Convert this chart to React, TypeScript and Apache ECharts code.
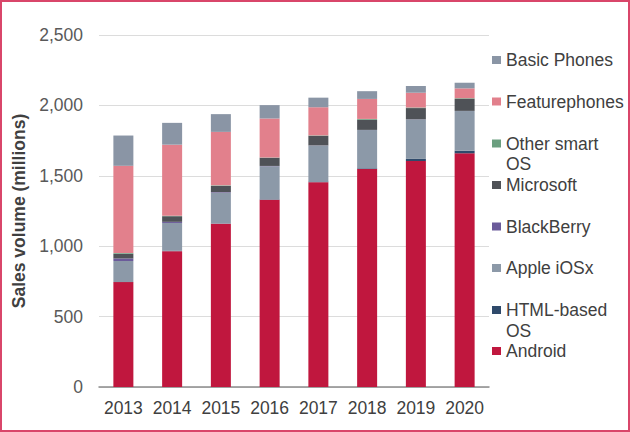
import React, { useEffect, useRef } from "react";
import * as echarts from "echarts";

const years = ["2013", "2014", "2015", "2016", "2017", "2018", "2019", "2020"];
const android = [745, 965, 1160, 1330, 1455, 1548, 1605, 1660];
const htmlOS = [0, 2, 2, 3, 5, 5, 15, 18];
const apple = [150, 198, 218, 235, 255, 272, 280, 282];
const blackberry = [18, 8, 4, 2, 1, 1, 1, 1];
const microsoft = [33, 40, 45, 58, 68, 72, 80, 85];
const otherSmart = [5, 3, 3, 2, 3, 6, 4, 5];
const featurephones = [620, 505, 380, 277, 200, 142, 105, 70];
const basicPhones = [215, 155, 126, 95, 68, 55, 48, 40];

const seriesDefs = [
  { name: "Android", data: android, color: "#c0173e" },
  { name: "HTML-based OS", data: htmlOS, color: "#2f4a6b" },
  { name: "Apple iOSx", data: apple, color: "#8c99a8" },
  { name: "BlackBerry", data: blackberry, color: "#6b5b9a" },
  { name: "Microsoft", data: microsoft, color: "#4f5257" },
  { name: "Other smart OS", data: otherSmart, color: "#6b9f7f" },
  { name: "Featurephones", data: featurephones, color: "#e2808c" },
  { name: "Basic Phones", data: basicPhones, color: "#8a95a5" },
];

// legend entries top to bottom, with label text
const legendItems = [
  { name: "Basic Phones", label: "Basic Phones", y: 60 },
  { name: "Featurephones", label: "Featurephones", y: 101.5 },
  { name: "Other smart OS", label: " \nOther smart\nOS", y: 143.5 },
  { name: "Microsoft", label: "Microsoft", y: 185 },
  { name: "BlackBerry", label: "BlackBerry", y: 226.5 },
  { name: "Apple iOSx", label: "Apple iOSx", y: 268 },
  { name: "HTML-based OS", label: " \nHTML-based\nOS", y: 310 },
  { name: "Android", label: "Android", y: 351 },
];

const FONT = "'Liberation Sans', Arial, sans-serif";
const LH = 20.5;

export default function App() {
  const ref = useRef<HTMLDivElement>(null);

  useEffect(() => {
    if (!ref.current) return;
    const chart = echarts.init(ref.current, undefined, { renderer: "svg" });

    const legends = legendItems.map((it) => {
      const multi = it.label.indexOf("\n") >= 0;
      return {
        data: [it.name],
        orient: "vertical",
        left: 492,
        top: multi ? it.y - LH * 1.5 : it.y - LH / 2,
        padding: 0,
        itemWidth: 9,
        itemHeight: 8,
        itemGap: 0,
        icon: "rect",
        selectedMode: false,
        formatter: () => it.label,
        textStyle: {
          fontFamily: FONT,
          fontSize: 17.5,
          color: "#404040",
          lineHeight: LH,
        },
      };
    });

    chart.setOption({
      animation: false,
      textStyle: { fontFamily: FONT },
      grid: { left: 99, right: 141, top: 35, bottom: 45, containLabel: false },
      legend: legends,
      xAxis: {
        type: "category",
        data: years,
        axisTick: { show: false },
        axisLine: { lineStyle: { color: "#8c8c8c", width: 1.5 } },
        axisLabel: {
          interval: 0,
          color: "#404040",
          fontSize: 17.5,
          fontFamily: FONT,
          margin: 12,
        },
      },
      yAxis: {
        type: "value",
        min: 0,
        max: 2500,
        interval: 500,
        name: "Sales volume (millions)",
        nameLocation: "middle",
        nameRotate: 90,
        nameGap: 70,
        nameTextStyle: {
          fontFamily: FONT,
          fontSize: 17.5,
          fontWeight: "bold",
          color: "#404040",
        },
        axisLine: { show: false },
        axisTick: { show: false },
        splitLine: { lineStyle: { color: "#dcdcdc", width: 1 } },
        axisLabel: {
          color: "#595959",
          fontSize: 17.5,
          fontFamily: FONT,
          margin: 16,
          formatter: (v: number) => v.toLocaleString("en-US"),
        },
      },
      series: seriesDefs.map((s) => ({
        name: s.name,
        type: "bar",
        stack: "total",
        barWidth: 20,
        data: s.data,
        itemStyle: { color: s.color },
        emphasis: { disabled: true },
      })),
    });

    return () => chart.dispose();
  }, []);

  return (
    <div style={{ position: "fixed", left: 0, top: 0, width: 630, height: 432, background: "#fff" }}>
      <div ref={ref} style={{ position: "absolute", left: 0, top: 0, width: 630, height: 432 }} />
      <div
        style={{
          position: "absolute",
          left: 0,
          top: 0,
          width: 630,
          height: 432,
          boxSizing: "border-box",
          border: "2px solid #d9466a",
          pointerEvents: "none",
        }}
      />
    </div>
  );
}
